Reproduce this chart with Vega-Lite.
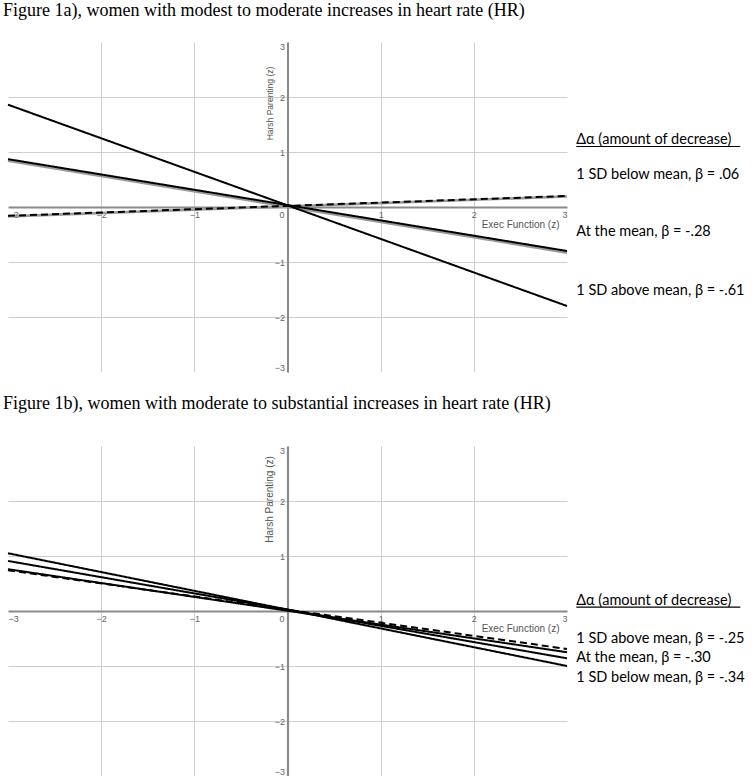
{
  "$schema": "https://vega.github.io/schema/vega-lite/v6.json",
  "background": "white",
  "padding": {"left": 2, "top": 2, "right": 0, "bottom": 0},
  "bounds": "flush",
  "spacing": 74,
  "resolve": {"scale": {"strokeDash": "independent", "x": "independent", "y": "independent"}},
  "config": {
    "view": {"stroke": null},
    "title": {"anchor": "start", "frame": "group", "font": "Liberation Serif", "fontSize": 18, "fontWeight": "normal", "color": "black", "baseline": "alphabetic", "offset": 22, "dx": -5}
  },
  "datasets": {
    "a_lines": [
      {"series": "1 SD below mean", "x": -3, "y": -0.16}, {"series": "1 SD below mean", "x": 3, "y": 0.2},
      {"series": "At the mean", "x": -3, "y": 0.87}, {"series": "At the mean", "x": 3, "y": -0.8},
      {"series": "1 SD above mean", "x": -3, "y": 1.86}, {"series": "1 SD above mean", "x": 3, "y": -1.8}
    ],
    "a_band": [
      {"series": "At the mean", "x": -3, "y": 0.84}, {"series": "At the mean", "x": 3, "y": -0.83},
      {"series": "1 SD below mean", "x": -3, "y": -0.17}, {"series": "1 SD below mean", "x": 3, "y": 0.19}
    ],
    "a_labels": [
      {"x": 3.1, "y": 1.22, "label": "Δα (amount of decrease)"},
      {"x": 3.1, "y": 0.58, "label": "1 SD below mean, β = .06"},
      {"x": 3.1, "y": -0.45, "label": "At the mean, β = -.28"},
      {"x": 3.1, "y": -1.53, "label": "1 SD above mean, β = -.61"}
    ],
    "a_underline": [{"x": 3.1, "x2": 4.86, "y": 1.1}],
    "b_lines": [
      {"series": "Reference", "x": -3, "y": 0.74}, {"series": "Reference", "x": 3, "y": -0.69},
      {"series": "1 SD above mean", "x": -3, "y": 0.76}, {"series": "1 SD above mean", "x": 3, "y": -0.75},
      {"series": "At the mean", "x": -3, "y": 0.91}, {"series": "At the mean", "x": 3, "y": -0.86},
      {"series": "1 SD below mean", "x": -3, "y": 1.05}, {"series": "1 SD below mean", "x": 3, "y": -1.0}
    ],
    "b_labels": [
      {"x": 3.1, "y": 0.19, "label": "Δα (amount of decrease)"},
      {"x": 3.1, "y": -0.5, "label": "1 SD above mean, β = -.25"},
      {"x": 3.1, "y": -0.85, "label": "At the mean, β = -.30"},
      {"x": 3.1, "y": -1.21, "label": "1 SD below mean, β = -.34"}
    ],
    "b_underline": [{"x": 3.1, "x2": 4.86, "y": 0.07}]
  },
  "vconcat": [
    {
      "width": 559,
      "height": 330,
      "title": {"text": "Figure 1a), women with modest to moderate increases in heart rate (HR)"},
      "encoding": {
        "x": {"field": "x", "type": "quantitative", "scale": {"domain": [-3, 3], "nice": false, "zero": false},
          "axis": {"values": [-3, -2, -1, 0, 1, 2, 3], "offset": -165, "grid": true, "gridColor": "#cfcfcf", "gridWidth": 1,
            "gridOpacity": {"condition": {"test": "abs(datum.value) >= 3", "value": 0}, "value": 1},
            "domainColor": "#8a8a8a", "domainWidth": 2, "ticks": false, "labelAngle": 0,
            "labelFont": "Liberation Sans", "labelFontSize": 9, "labelColor": "#666", "labelPadding": 3, "labelFlush": true,
            "labelOffset": {"condition": {"test": "datum.value == 0", "value": -6}, "value": 0},
            "title": "Exec Function (z)", "titleX": 551, "titleY": 17, "titleAlign": "right", "titleBaseline": "middle",
            "titleFont": "Liberation Sans", "titleFontSize": 10, "titleFontWeight": "normal", "titleColor": "#555"}},
        "y": {"field": "y", "type": "quantitative", "scale": {"domain": [-3, 3], "nice": false, "zero": false},
          "axis": {"values": [-3, -2, -1, 1, 2, 3], "offset": -279.5, "grid": true, "gridColor": "#cfcfcf", "gridWidth": 1,
            "gridOpacity": {"condition": {"test": "abs(datum.value) >= 3", "value": 0}, "value": 1},
            "domainColor": "#8a8a8a", "domainWidth": 2, "ticks": false, "labelAngle": 0,
            "labelFont": "Liberation Sans", "labelFontSize": 9, "labelColor": "#666", "labelPadding": 3, "labelFlush": true,
            "title": "Harsh Parenting (z)", "titleX": -13, "titleY": 61, "titleAngle": -90, "titleAlign": "center", "titleBaseline": "bottom",
            "titleFont": "Liberation Sans", "titleFontSize": 8.5, "titleFontWeight": "normal", "titleColor": "#555"}}
      },
      "layer": [
        {"data": {"name": "a_band"}, "mark": {"type": "line", "color": "#9a9a9a", "strokeWidth": 2.6}, "encoding": {"detail": {"field": "series"}}},
        {"data": {"name": "a_lines"}, "mark": {"type": "line", "color": "black", "strokeWidth": 2},
          "encoding": {"detail": {"field": "series"},
            "strokeDash": {"field": "series", "type": "nominal", "legend": null,
              "scale": {"domain": ["1 SD below mean", "At the mean", "1 SD above mean"], "range": [[7, 4], [1, 0], [1, 0]]}}}},
        {"data": {"name": "a_underline"}, "mark": {"type": "rule", "color": "black", "strokeWidth": 1.2}, "encoding": {"x2": {"field": "x2"}}},
        {"data": {"name": "a_labels"}, "mark": {"type": "text", "align": "left", "baseline": "middle", "font": "Lato", "fontSize": 14.5, "color": "black"},
          "encoding": {"text": {"field": "label"}}}
      ]
    },
    {
      "width": 559,
      "height": 330,
      "title": {"text": "Figure 1b), women with moderate to substantial increases in heart rate (HR)", "offset": 33},
      "encoding": {
        "x": {"field": "x", "type": "quantitative", "scale": {"domain": [-3, 3], "nice": false, "zero": false},
          "axis": {"values": [-3, -2, -1, 0, 1, 2, 3], "offset": -165, "grid": true, "gridColor": "#cfcfcf", "gridWidth": 1,
            "gridOpacity": {"condition": {"test": "abs(datum.value) >= 3", "value": 0}, "value": 1},
            "domainColor": "#8a8a8a", "domainWidth": 2.2, "ticks": false, "labelAngle": 0,
            "labelFont": "Liberation Sans", "labelFontSize": 9, "labelColor": "#666", "labelPadding": 3, "labelFlush": true,
            "labelOffset": {"condition": {"test": "datum.value == 0", "value": -6}, "value": 0},
            "title": "Exec Function (z)", "titleX": 551, "titleY": 17, "titleAlign": "right", "titleBaseline": "middle",
            "titleFont": "Liberation Sans", "titleFontSize": 10, "titleFontWeight": "normal", "titleColor": "#555"}},
        "y": {"field": "y", "type": "quantitative", "scale": {"domain": [-3, 3], "nice": false, "zero": false},
          "axis": {"values": [-3, -2, -1, 1, 2, 3], "offset": -279.5, "grid": true, "gridColor": "#cfcfcf", "gridWidth": 1,
            "gridOpacity": {"condition": {"test": "abs(datum.value) >= 3", "value": 0}, "value": 1},
            "domainColor": "#8a8a8a", "domainWidth": 2.2, "ticks": false, "labelAngle": 0,
            "labelFont": "Liberation Sans", "labelFontSize": 9, "labelColor": "#666", "labelPadding": 3, "labelFlush": true,
            "title": "Harsh Parenting (z)", "titleX": -13, "titleY": 53, "titleAngle": -90, "titleAlign": "center", "titleBaseline": "bottom",
            "titleFont": "Liberation Sans", "titleFontSize": 10, "titleFontWeight": "normal", "titleColor": "#555"}}
      },
      "layer": [
        {"data": {"name": "b_lines"}, "mark": {"type": "line", "color": "black", "strokeWidth": 2},
          "encoding": {"detail": {"field": "series"},
            "strokeDash": {"field": "series", "type": "nominal", "legend": null,
              "scale": {"domain": ["Reference", "1 SD above mean", "At the mean", "1 SD below mean"], "range": [[7, 4], [1, 0], [1, 0], [1, 0]]}}}},
        {"data": {"name": "b_underline"}, "mark": {"type": "rule", "color": "black", "strokeWidth": 1.2}, "encoding": {"x2": {"field": "x2"}}},
        {"data": {"name": "b_labels"}, "mark": {"type": "text", "align": "left", "baseline": "middle", "font": "Lato", "fontSize": 14.5, "color": "black"},
          "encoding": {"text": {"field": "label"}}}
      ]
    }
  ]
}
